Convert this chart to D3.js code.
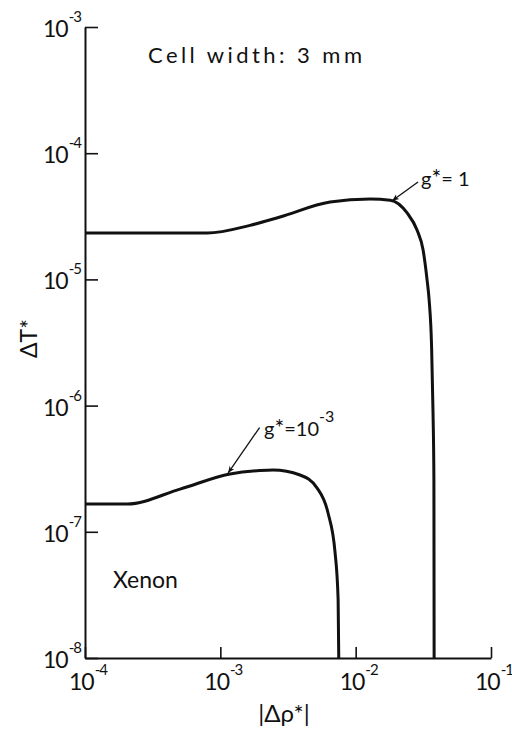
<!DOCTYPE html>
<html>
<head>
<meta charset="utf-8">
<script src="https://cdn.jsdelivr.net/npm/d3@7"></script>
<style>
  body { margin: 0; background: #fff; }
  text { font-family: Lato, "DejaVu Sans", sans-serif; fill: #111; }
</style>
</head>
<body>
<svg id="chart" width="512" height="731"></svg>
<script>
// Decade ticks on both logarithmic axes
const xTicks = [1e-4, 1e-3, 1e-2, 1e-1];
const xTickExp = ["-4", "-3", "-2", "-1"];
const yTicks = [1e-8, 1e-7, 1e-6, 1e-5, 1e-4, 1e-3];
const yTickExp = ["-8", "-7", "-6", "-5", "-4", "-3"];

// Curve g* = 1
const rhoG1 = [1e-4, 4e-4, 8.0e-4, 1.66e-3, 2.76e-3, 6.47e-3, 1.28e-2, 1.80e-2, 2.40e-2, 2.84e-2, 3.15e-2, 3.37e-2, 3.49e-2, 3.64e-2, 3.73e-2, 3.786e-2, 3.800e-2];
const dTG1  = [2.33e-5, 2.33e-5, 2.33e-5, 2.68e-5, 3.12e-5, 4.10e-5, 4.33e-5, 4.24e-5, 3.36e-5, 2.46e-5, 1.71e-5, 9.9e-6, 6.87e-6, 2.91e-6, 8.7e-7, 2.57e-7, 1e-8];

// Curve g* = 10^-3
const rhoG3 = [1e-4, 2.04e-4, 5.04e-4, 1.18e-3, 1.96e-3, 2.45e-3, 3.88e-3, 5.19e-3, 6.25e-3, 7.05e-3, 7.42e-3, 7.50e-3];
const dTG3  = [1.66e-7, 1.66e-7, 2.18e-7, 2.87e-7, 3.06e-7, 3.09e-7, 2.82e-7, 2.22e-7, 1.41e-7, 6.79e-8, 2.88e-8, 1e-8];

const svg = d3.select("#chart");

const x = d3.scaleLog().domain([1e-4, 1e-1]).range([85, 491]);
const y = d3.scaleLog().domain([1e-8, 1e-3]).range([658, 27]);

// Axes with inward-pointing ticks
const gx = svg.append("g").attr("transform", "translate(0,658)")
  .call(d3.axisBottom(x).tickValues(xTicks).tickSize(-11).tickSizeOuter(0).tickFormat(""));
const gy = svg.append("g").attr("transform", "translate(85,0)")
  .call(d3.axisLeft(y).tickValues(yTicks).tickSize(-13).tickSizeOuter(0).tickFormat(""));
[gx, gy].forEach(g => {
  g.select(".domain").attr("stroke", "#111").attr("stroke-width", 2);
  g.selectAll(".tick line").attr("stroke", "#111").attr("stroke-width", 1.6);
});

// Power-of-ten tick labels
xTicks.forEach((v, i) => {
  const t = svg.append("text").attr("x", x(v) - 16).attr("y", 690)
    .attr("font-size", 23).attr("letter-spacing", -1);
  t.append("tspan").text("10");
  t.append("tspan").attr("font-size", 15).attr("dx", 1).attr("dy", -15).text(xTickExp[i]);
});
yTicks.forEach((v, i) => {
  const t = svg.append("text").attr("x", 43).attr("y", y(v) + 10)
    .attr("font-size", 23).attr("letter-spacing", -1);
  t.append("tspan").text("10");
  t.append("tspan").attr("font-size", 15).attr("dx", 1).attr("dy", -15).text(yTickExp[i]);
});

// Curves
const line = d3.line().x(d => x(d[0])).y(d => y(d[1])).curve(d3.curveMonotoneX);
[[rhoG1, dTG1], [rhoG3, dTG3]].forEach(([xs, ys]) => {
  svg.append("path")
    .datum(xs.map((v, i) => [v, ys[i]]))
    .attr("d", line)
    .attr("fill", "none")
    .attr("stroke", "#111")
    .attr("stroke-width", 3)
    .attr("stroke-linejoin", "round");
});

// Arrowhead marker
svg.append("defs").append("marker")
  .attr("id", "arrow").attr("viewBox", "0 0 10 10")
  .attr("refX", 10).attr("refY", 5)
  .attr("markerWidth", 9).attr("markerHeight", 7)
  .attr("markerUnits", "userSpaceOnUse")
  .attr("orient", "auto")
  .append("path").attr("d", "M0,1 L10,5 L0,9 L3,5 Z").attr("fill", "#111");

// Curve annotations: arrows from label to curve
const arrowFrom = [[2.89e-2, 5.92e-5], [1.95e-3, 6.7e-7]];
const arrowTo   = [[1.86e-2, 4.2e-5], [1.14e-3, 2.92e-7]];
arrowFrom.forEach((f, i) => {
  svg.append("line")
    .attr("x1", x(f[0])).attr("y1", y(f[1]))
    .attr("x2", x(arrowTo[i][0])).attr("y2", y(arrowTo[i][1]))
    .attr("stroke", "#111").attr("stroke-width", 1.3)
    .attr("marker-end", "url(#arrow)");
});

const lab1 = svg.append("text").attr("x", 421).attr("y", 186).attr("font-size", 20);
lab1.append("tspan").text("g");
lab1.append("tspan").attr("font-size", 23).text("*");
lab1.append("tspan").text("= 1");

const lab2 = svg.append("text").attr("x", 264).attr("y", 436).attr("font-size", 20);
lab2.append("tspan").text("g");
lab2.append("tspan").attr("font-size", 23).text("*");
lab2.append("tspan").text("=10");
lab2.append("tspan").attr("font-size", 16).attr("dy", -14).text("-3");

// Chart notes
svg.append("text").attr("x", 148).attr("y", 63).attr("font-size", 22)
  .attr("textLength", 214).attr("lengthAdjust", "spacing")
  .text("Cell width: 3 mm");
svg.append("text").attr("x", 113).attr("y", 588).attr("font-size", 23).text("Xenon");

// Axis titles
svg.append("text").attr("x", 284).attr("y", 722).attr("font-size", 24)
  .attr("text-anchor", "middle").text("|Δρ*|");
svg.append("text").attr("transform", "translate(37,358) rotate(-90)")
  .attr("font-size", 23).text("ΔT*");
</script>
</body>
</html>
